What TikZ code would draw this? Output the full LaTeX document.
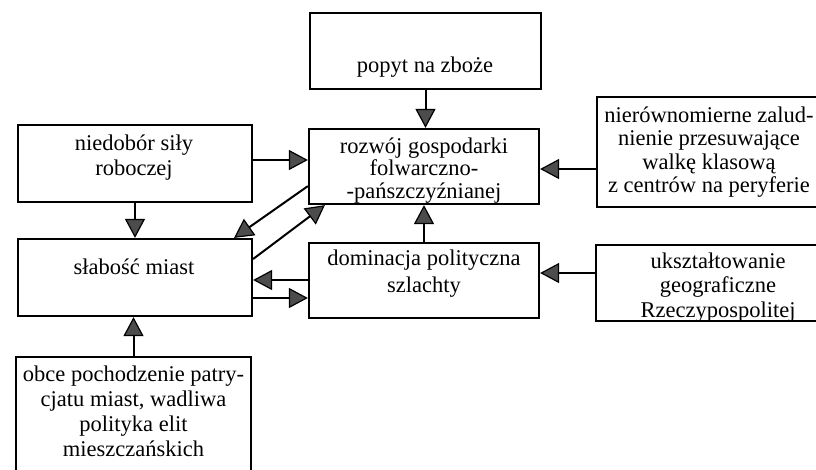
\documentclass[tikz,border=0pt]{standalone}
\usepackage{fontspec}
\setmainfont{Liberation Serif}
\usetikzlibrary{arrows.meta,calc}
\begin{document}
\begin{tikzpicture}[x=1pt,y=-1pt,
  box/.style={draw, line width=2.2pt, inner sep=0pt},
  txt/.style={align=center, inner sep=0pt, font=\fontsize{22.5}{24.5}\selectfont},
  arr/.style={line width=2pt,
    -{Triangle[length=19pt,width=20pt,fill=black!70,line width=1.2pt]}}]
\fill[white] (0,0) rectangle (816,469);
\useasboundingbox (0,0) rectangle (816,469);
\clip (0,0) rectangle (816,469);

% boxes
\node[box, minimum width=231pt, minimum height=76pt]  (popyt)   at (425.5,51)   {};
\node[box, minimum width=230pt, minimum height=75pt]  (rozwoj)  at (424,166.5)  {};
\node[box, minimum width=230pt, minimum height=75pt]  (domin)   at (424,280.5)  {};
\node[box, minimum width=234pt, minimum height=77pt]  (niedob)  at (135,163.5)  {};
\node[box, minimum width=234pt, minimum height=77pt]  (slabosc) at (135,277.5)  {};
\node[box, minimum width=235pt, minimum height=118pt] (obce)    at (133.5,416)  {};
\node[box, minimum width=233pt, minimum height=110pt] (nierown) at (713.5,152)  {};
\node[box, minimum width=244pt, minimum height=76pt]  (uksztal) at (718,283)    {};

% texts
\node[txt] (popyt-t)   at (425,67)    {popyt na zboże};
\node[txt] (niedob-t)  at (134,157.5) {niedobór siły\\roboczej};
\node[txt] (slabosc-t) at (134,267)   {słabość miast};
\node[txt, font=\fontsize{22.5}{22.7}\selectfont] (rozwoj-t) at (424,170.5)
  {rozwój gospodarki\\folwarczno-\\-pańszczyźnianej};
\node[txt, font=\fontsize{22.5}{26.5}\selectfont] (domin-t) at (424,273.5)
  {dominacja polityczna\\szlachty};
\node[txt, font=\fontsize{22.5}{23.5}\selectfont] (nierown-t) at (709,152)
  {nierównomierne zalud-\\nienie przesuwające\\walkę klasową\\z centrów na peryferie};
\node[txt] (uksztal-t) at (718,287.5) {ukształtowanie\\geograficzne\\Rzeczypospolitej};
\node[txt, font=\fontsize{22.5}{25}\selectfont] (obce-t) at (133.5,411)
  {obce pochodzenie patry-\\cjatu miast, wadliwa\\polityka elit\\mieszczańskich};

% connectors
\draw[arr] (popyt.south) -- (popyt.south |- rozwoj.north);
\draw[arr] ([yshift=3.5pt]niedob.east) -- ([yshift=3.5pt]niedob.east -| rozwoj.west);
\draw[arr] (niedob.south) -- (slabosc.north);
\draw[arr] ($(rozwoj.south west)+(0,-19)$) -- ($(slabosc.north east)+(-19,0)$);
\draw[arr] ($(slabosc.east)+(0,-18.5)$) -- ($(rozwoj.south west)+(17,0)$);
\draw[arr] ([yshift=-2.5pt]slabosc.east -| domin.west) -- ([yshift=-2.5pt]slabosc.east);
\draw[arr] ([yshift=-20.5pt]slabosc.east) -- ([yshift=-20.5pt]slabosc.east -| domin.west);
\draw[arr] (domin.north) -- (rozwoj.south);
\draw[arr] ([yshift=-2.5pt]rozwoj.east -| nierown.west) -- ([yshift=-2.5pt]rozwoj.east);
\draw[arr] ([yshift=7.5pt]domin.east -| uksztal.west) -- ([yshift=7.5pt]domin.east);
\draw[arr] (obce.north) -- (obce.north |- slabosc.south);
\end{tikzpicture}
\end{document}
